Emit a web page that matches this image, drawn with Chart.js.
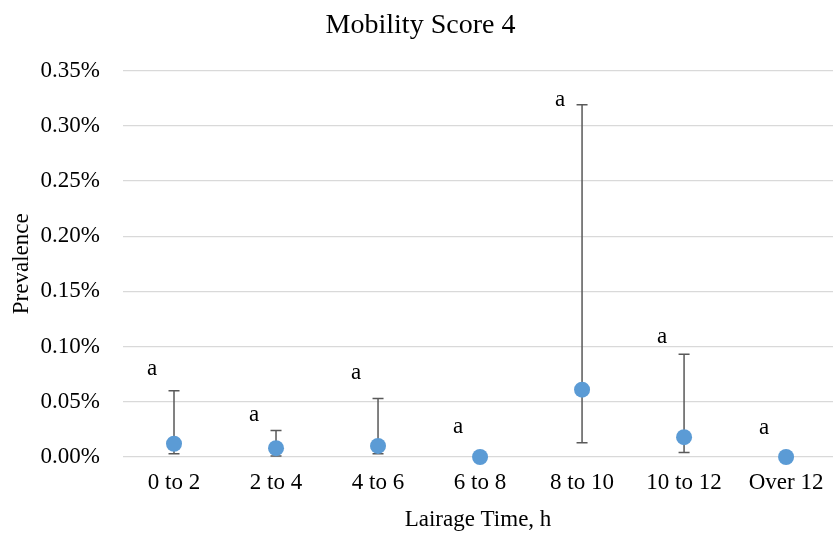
<!DOCTYPE html>
<html lang="en">
<head>
    <meta charset="UTF-8">
    <title>Mobility Score 4</title>
    <script src="https://cdn.jsdelivr.net/npm/chart.js"></script>
    <style>
        body {
            margin: 0;
            overflow: hidden;
            background: #fff;
        }
    </style>
</head>
<body>

<canvas id="scoreChart" width="833" height="542"></canvas>

<script>
// data, values in %
const categories = ['0 to 2', '2 to 4', '4 to 6', '6 to 8', '8 to 10', '10 to 12', 'Over 12'];
const prevalence = [0.012, 0.008, 0.010, 0, 0.061, 0.018, 0];
const upperCI = [0.060, 0.024, 0.053, null, 0.319, 0.093, null];
const lowerCI = [0.003, 0.001, 0.003, null, 0.013, 0.004, null];
const letters = ['a', 'a', 'a', 'a', 'a', 'a', 'a'];
const letterY = [0.080, 0.038, 0.076, 0.027, 0.323, 0.109, 0.026];
const yTicks = [0, 0.05, 0.10, 0.15, 0.20, 0.25, 0.30, 0.35];

const serif = '"Liberation Serif", "Times New Roman", serif';

// error bars + letters
const extras = {
    id: 'extras',
    beforeDatasetsDraw(chart) {
        const ctx = chart.ctx;
        const x = chart.scales.x, y = chart.scales.y;
        ctx.save();
        ctx.strokeStyle = '#595959';
        ctx.lineWidth = 1.5;
        categories.forEach(function (c, i) {
            if (upperCI[i] == null) return;
            const px = x.getPixelForValue(i);
            const top = y.getPixelForValue(upperCI[i]);
            const bot = y.getPixelForValue(lowerCI[i]);
            ctx.beginPath();
            ctx.moveTo(px, top); ctx.lineTo(px, bot);
            ctx.moveTo(px - 5.5, top); ctx.lineTo(px + 5.5, top);
            ctx.moveTo(px - 5.5, bot); ctx.lineTo(px + 5.5, bot);
            ctx.stroke();
        });
        ctx.restore();
    },
    afterDatasetsDraw(chart) {
        const ctx = chart.ctx;
        const x = chart.scales.x, y = chart.scales.y;
        ctx.save();
        ctx.fillStyle = '#000';
        ctx.font = '23px ' + serif;
        ctx.textAlign = 'center';
        ctx.textBaseline = 'middle';
        letters.forEach(function (t, i) {
            ctx.fillText(t, x.getPixelForValue(i) - 22, y.getPixelForValue(letterY[i]));
        });
        ctx.restore();
    }
};

new Chart(document.getElementById('scoreChart'), {
    type: 'scatter',
    data: {
        datasets: [{
            label: 'Prevalence',
            data: prevalence.map((v, i) => ({ x: i, y: v })),
            showLine: false,
            pointRadius: 8,
            pointHoverRadius: 8,
            pointBackgroundColor: '#5B9BD5',
            pointBorderColor: '#5B9BD5',
            pointBorderWidth: 0,
            clip: false
        }]
    },
    options: {
        responsive: false,
        animation: false,
        layout: { autoPadding: false, padding: { left: 8, right: 0, bottom: 8 } },
        plugins: {
            legend: { display: false },
            tooltip: { enabled: false },
            title: {
                display: true,
                text: 'Mobility Score 4',
                color: '#000',
                font: { family: serif, size: 28, weight: 'normal' },
                padding: { top: 9, bottom: 28 }
            }
        },
        scales: {
            x: {
                type: 'linear',
                // the original is cut off at the right, last column is not complete
                min: -0.5,
                max: 6.46,
                afterBuildTicks(axis) {
                    axis.ticks = categories.map((c, i) => ({ value: i }));
                },
                grid: { display: false, drawTicks: false },
                border: { display: false },
                ticks: {
                    color: '#000',
                    font: { family: serif, size: 23 },
                    padding: 12,
                    maxRotation: 0,
                    autoSkip: false,
                    callback: v => categories[v]
                },
                title: {
                    display: true,
                    text: 'Lairage Time, h',
                    color: '#000',
                    font: { family: serif, size: 23 },
                    padding: { top: 9, bottom: 0 }
                },
                afterFit(axis) {
                    axis.height = 77;
                    axis.paddingLeft = 0;
                    axis.paddingRight = 0;
                }
            },
            y: {
                min: 0,
                max: 0.35,
                afterBuildTicks(axis) {
                    axis.ticks = yTicks.map(v => ({ value: v }));
                },
                grid: { color: '#d9d9d9', lineWidth: 1.3, drawTicks: false },
                border: { display: false },
                ticks: {
                    color: '#000',
                    font: { family: serif, size: 23 },
                    padding: 23,
                    callback: v => v.toFixed(2) + '%'
                },
                title: {
                    display: true,
                    text: 'Prevalence',
                    color: '#000',
                    font: { family: serif, size: 23 },
                    padding: { top: 0, bottom: 0 }
                },
                afterFit(axis) { axis.width = 115; }
            }
        }
    },
    plugins: [extras]
});
</script>
</body>
</html>
